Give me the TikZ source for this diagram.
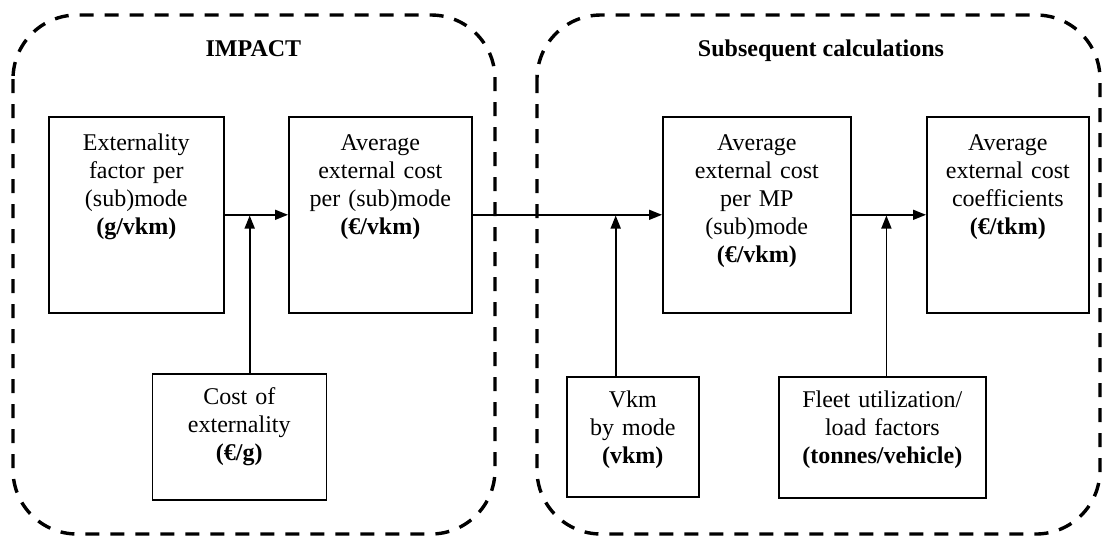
\documentclass[tikz,border=0pt]{standalone}
\usepackage{fontspec}
\setmainfont{Liberation Serif}
\usetikzlibrary{arrows.meta}

\begin{document}
\begin{tikzpicture}[
  x=0.5pt, y=0.5pt,
  font=\fontsize{12}{14}\selectfont,
  group/.style={dash pattern=on 7pt off 5.5pt, line width=1.7pt, rounded corners=32pt},
  blk/.style={draw, line width=0.8pt, anchor=north west, align=center, inner sep=3pt, text height=14pt},
  lowblk/.style={blk, text height=12.5pt},
  arr/.style={line width=0.8pt, -{Triangle[length=6.5pt,width=5pt]}},
  title/.style={anchor=base, font=\fontsize{12}{14}\selectfont\bfseries}
]
  \useasboundingbox (0,0) rectangle (1102,-537);
  \draw[group] (13,-15) rectangle (495,-534);
  \draw[group] (537,-15) rectangle (1100,-534);
  \node[title] (imp) at (253.4,-56) {IMPACT};
  \node[title] (sub) at (821,-56) {Subsequent calculations};
  \node[blk, text width=81.5pt, text depth=78pt] (fac) at (48,-116) {Externality\\ factor per\\ (sub)mode\\ \textbf{(g/vkm)}};
  \node[blk, text width=85.5pt, text depth=78pt] (avg) at (288,-116) {Average\\ external cost\\ per (sub)mode\\ \textbf{(€/vkm)}};
  \node[lowblk, text width=81pt, text depth=44.5pt] (cst) at (151.5,-373) {Cost of\\ externality\\ \textbf{(€/g)}};
  \node[blk, text width=88pt, text depth=78pt] (mp) at (662,-116) {Average\\ external cost\\ per MP\\ (sub)mode\\ \textbf{(€/vkm)}};
  \node[blk, text width=75pt, text depth=78pt] (coef) at (926,-116) {Average\\ external cost\\ coefficients\\ \textbf{(€/tkm)}};
  \node[lowblk, text width=60pt, text depth=41.5pt] (vkm) at (566,-376) {Vkm\\ by mode\\ \textbf{(vkm)}};
  \node[lowblk, text width=97.5pt, text depth=42pt] (flt) at (778,-376) {Fleet utilization/\\ load factors\\ \textbf{(tonnes/vehicle)}};
  \coordinate (j1) at (249.7,-215.5);
  \coordinate (j2) at (615.7,-215.5);
  \coordinate (j3) at (886.4,-215.5);
  \draw[arr] (fac) -- (avg);
  \draw[arr] (avg) -- (mp);
  \draw[arr] (mp) -- (coef);
  \draw[arr] (cst.north -| j1) -- (j1);
  \draw[arr] (vkm.north -| j2) -- (j2);
  \draw[arr] (flt.north -| j3) -- (j3);
\end{tikzpicture}
\end{document}
